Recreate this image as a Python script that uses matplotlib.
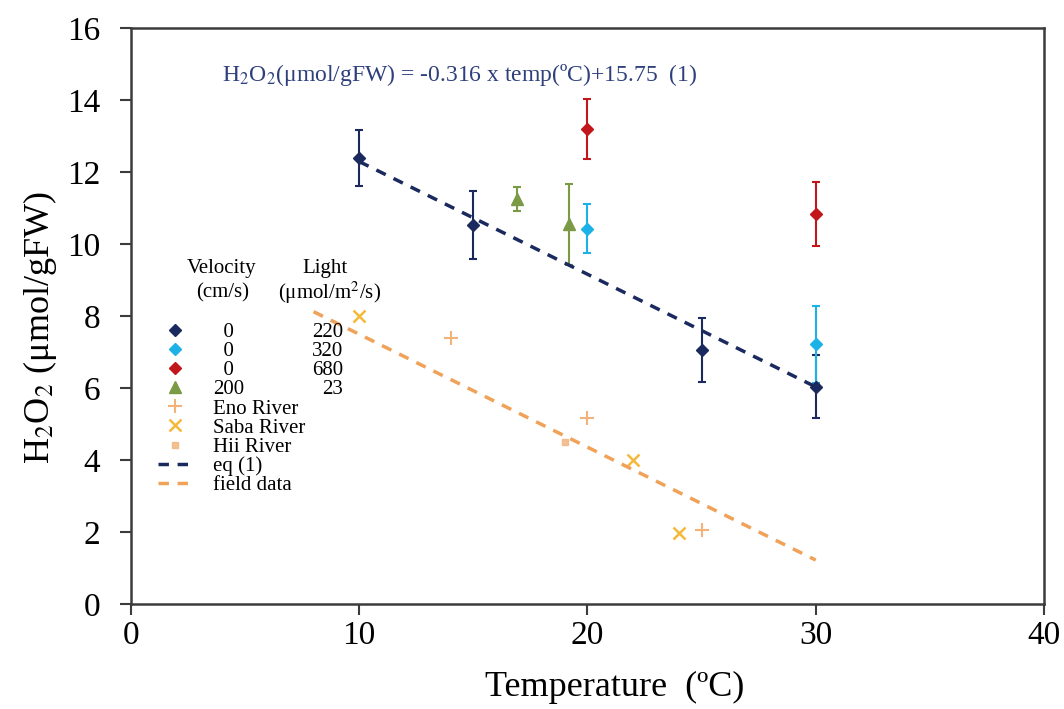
import matplotlib
matplotlib.use("Agg")
import matplotlib.pyplot as plt
from matplotlib.lines import Line2D

plt.rcParams['font.family'] = ['Liberation Serif', 'DejaVu Serif']
plt.rcParams['mathtext.fontset'] = 'stix'

# lab data: velocity 0 cm/s, three light levels
t_220 = [10, 15, 25, 30]
h_220 = [12.39, 10.52, 7.06, 6.04]
e_220 = [0.78, 0.95, 0.88, 0.87]

t_320 = [20, 30]
h_320 = [10.43, 7.22]
e_320 = [0.68, 1.07]

t_680 = [20, 30]
h_680 = [13.19, 10.83]
e_680 = [0.83, 0.88]

# velocity 200 cm/s, light 23
t_200 = [16.9, 19.2]
h_200 = [11.25, 10.55]
e_200 = [0.33, 1.12]

# field data
t_eno = [14, 20, 25]
h_eno = [7.38, 5.16, 2.06]
t_saba = [10, 22, 24]
h_saba = [8.0, 4.0, 1.98]
t_hii = [19]
h_hii = [4.51]

# fitted lines
eq_t = [10, 30]
eq_h = [12.29, 6.03]
fd_t = [8, 30]
fd_h = [8.12, 1.22]

velocities = ['  0', '  0', '  0', '200']
lights = ['220', '320', '680', '23']

navy = '#1B2A5E'
cyan = '#1CB2E8'
red = '#C0161C'
green = '#7A9A45'
orange_l = '#F2B27A'
gold = '#F5B93A'
fd_col = '#F0A259'
axcol = '#3C3C3C'

fig = plt.figure(figsize=(10.64, 7.09), dpi=100)
ax = fig.add_axes([0.1231, 0.1481, 0.8581, 0.8124])

ebkw = dict(ms=6, capsize=3, elinewidth=1.5, capthick=1.5)
ax.errorbar(t_220, h_220, yerr=e_220, fmt='D', color=navy, **ebkw)
ax.errorbar(t_320, h_320, yerr=e_320, fmt='D', color=cyan, **ebkw)
ax.errorbar(t_680, h_680, yerr=e_680, fmt='D', color=red, **ebkw)
ax.errorbar(t_200, h_200, yerr=e_200, fmt='^', color=green, ms=8, capsize=3, elinewidth=1.5, capthick=1.5)
ax.plot(t_eno, h_eno, '+', color=orange_l, ms=10, mew=1.5, ls='none')
ax.plot(t_saba, h_saba, 'x', color=gold, ms=9, mew=1.8, ls='none')
ax.plot(t_hii, h_hii, 's', color=orange_l, ms=4, ls='none', alpha=0.8)
ax.plot(eq_t, eq_h, '--', color=navy, lw=2.5, dashes=(3, 2.5))
ax.plot(fd_t, fd_h, '--', color=fd_col, lw=2.5, dashes=(3, 2.5))

handles = [
    Line2D([], [], marker='D', color=navy, ls='none', ms=6),
    Line2D([], [], marker='D', color=cyan, ls='none', ms=6),
    Line2D([], [], marker='D', color=red, ls='none', ms=6),
    Line2D([], [], marker='^', color=green, ls='none', ms=8),
    Line2D([], [], marker='+', color=orange_l, ls='none', ms=10, mew=1.5),
    Line2D([], [], marker='x', color=gold, ls='none', ms=9, mew=1.8),
    Line2D([], [], marker='s', color=orange_l, ls='none', ms=4, alpha=0.8),
    Line2D([], [], color=navy, ls='--', lw=2.5, dashes=(3, 2.5)),
    Line2D([], [], color=fd_col, ls='--', lw=2.5, dashes=(3, 2.5)),
]
labels = velocities + ['Eno River', 'Saba River', 'Hii River', 'eq (1)', 'field data']

ax.set_xlim(0, 40)
ax.set_ylim(0, 16)
ax.set_xticks([0, 10, 20, 30, 40])
ax.set_yticks(range(0, 17, 2))
ax.tick_params(direction='out', length=8, width=1.5, color=axcol, labelsize=24)
ax.tick_params(axis='y', pad=14)
ax.tick_params(axis='x', pad=4)
for s in ax.spines.values():
    s.set_color(axcol)
    s.set_linewidth(1.8)

ax.set_xlabel('Temperature  (ºC)', fontsize=26, va='top')
ax.xaxis.set_label_coords(0.53, -0.116)
ax.set_ylabel('H$_2$O$_2$ (μmol/gFW)', fontsize=26, va='center')
ax.yaxis.set_label_coords(-0.100, 0.48)

ax.text(0.36, 0.918, 'H$_2$O$_2$(μmol/gFW) = -0.316 x temp(ºC)+15.75  (1)', transform=ax.transAxes,
        ha='center', va='center', fontsize=17, color='#2E3F7C')

leg = ax.legend(handles, labels, loc='upper left', bbox_to_anchor=(0.0296, 0.489), frameon=False,
                fontsize=15, labelspacing=-0.02, handlelength=1.65, handletextpad=1.0,
                borderaxespad=0, borderpad=0)

# column headers of the legend
ax.text(0.0997, 0.583, 'Velocity', transform=ax.transAxes, ha='center', va='center', fontsize=15)
ax.text(0.1008, 0.540, '(cm/s)', transform=ax.transAxes, ha='center', va='center', fontsize=15)
ax.text(0.2125, 0.583, 'Light', transform=ax.transAxes, ha='center', va='center', fontsize=15)
ax.text(0.218, 0.540, '(μmol/m$^2$/s)', transform=ax.transAxes, ha='center', va='center', fontsize=15)

# light values next to the first four entries
fig.canvas.draw()
inv = ax.transAxes.inverted()
for txt, val in zip(leg.get_texts()[:4], lights):
    bb = txt.get_window_extent()
    yc = inv.transform((0, (bb.y0 + bb.y1) / 2))[1]
    ax.text(0.232, yc, val, transform=ax.transAxes, ha='right', va='center', fontsize=15)

fig.savefig('out.png', dpi=100)
